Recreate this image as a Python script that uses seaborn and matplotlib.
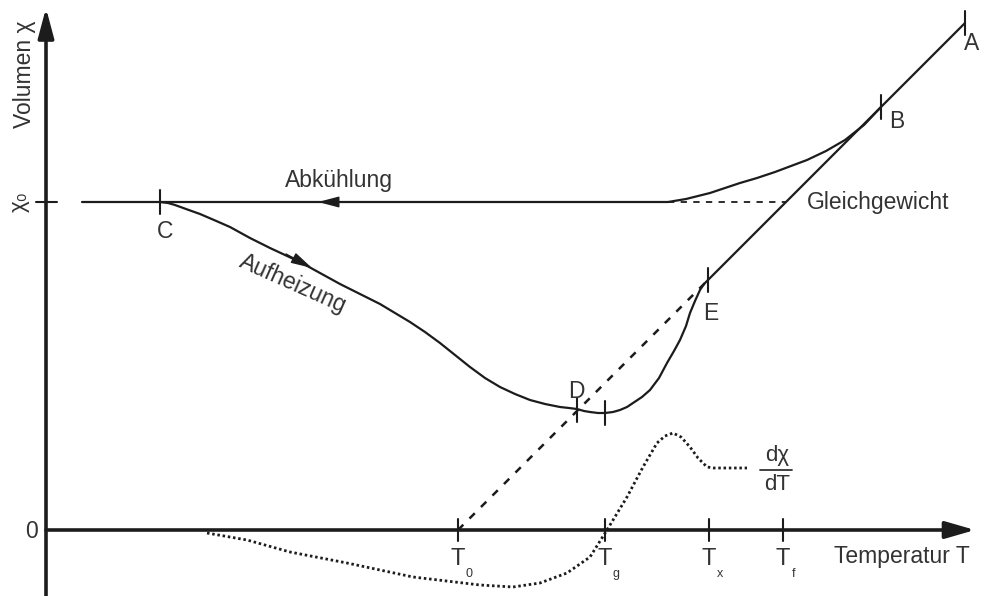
import matplotlib
matplotlib.use("Agg")
import matplotlib.pyplot as plt
import seaborn as sns

# Schematic volume / temperature diagram (values in drawing units, origin at axis cross)
sns.set_style("white")
plt.rcParams['font.family'] = ['Liberation Sans', 'DejaVu Sans']

INK = '#1c1c1c'
TXT = '#333333'

# chi_0 level (cooling line)
chi0 = 328
cool_x = [36, 622]
gleich_x = [622, 740]

# cooling curve from equilibrium line down to chi_0 level
cool_curve_x = [622, 628, 640, 652, 664, 679, 694, 711, 729, 745, 761, 780, 799, 818, 835]
cool_curve_y = [328, 329, 331, 334, 337, 342, 347, 352, 358, 364, 370, 379, 390, 405, 423]

# equilibrium line T0 -> E (dashed) and E -> A (solid)
eq_dash_x = [412, 662]
eq_dash_y = [0, 250]
eq_solid_x = [662, 919]
eq_solid_y = [250, 507]

# heating curve C -> D -> E
heat_x = [114, 122, 129, 140, 154, 168, 184, 204, 224, 239, 254, 274, 294, 314, 334,
          349, 364, 379, 394, 409, 424, 439, 454, 469, 484, 499, 514, 523, 531, 538,
          544, 552, 559, 567, 574, 581, 587, 596, 604, 613, 621, 628, 634, 640, 644,
          649, 654, 658, 662]
heat_y = [328, 327, 325, 321, 316, 310, 303, 292, 282, 275, 268, 257, 246, 236, 226,
          217, 208, 198, 187, 175, 163, 152, 143, 136, 130, 126, 123, 122, 121, 119,
          118, 117, 117, 118, 120, 123, 127, 133, 140, 152, 167, 179, 190, 204, 217,
          229, 240, 246, 250]

# d(chi)/dT curve
deriv_x = [161, 201, 244, 301, 367, 434, 467, 494, 521, 544, 561, 581, 597, 611,
           619, 627, 635, 644, 652, 661, 668, 701]
deriv_y = [-3, -10, -22, -33, -47, -55, -57, -53, -43, -27, 0, 33, 63, 87,
           94, 97, 93, 83, 72, 63, 62, 62]

# marked points on the curves
pt_names = ['A', 'B', 'C', 'D', '', 'E']
pt_x = [919, 835, 114, 531, 559, 662]
pt_y = [507, 423, 328, 120, 117, 250]
pt_label_x = [926, 851, 119, 530, None, 665]
pt_label_y = [486, 409, 299, 139, None, 216]

# temperature ticks
t_names = ['0', 'g', 'x', 'f']
t_pos = [412, 559, 663, 737]

fig = plt.figure(figsize=(9.84, 5.96), dpi=100)
ax = fig.add_axes([0, 0, 1, 1])
ax.set_xlim(-46, 938)
ax.set_ylim(-66, 530)
ax.axis('off')

# axes with arrow heads
ax.annotate('', xy=(0, 522), xytext=(0, -70),
            arrowprops=dict(arrowstyle='-|>,head_length=0.9,head_width=0.24', lw=2.6,
                            color=INK, shrinkA=0, shrinkB=0, mutation_scale=20))
ax.annotate('', xy=(929, 0), xytext=(0, 0),
            arrowprops=dict(arrowstyle='-|>,head_length=0.9,head_width=0.26', lw=2.6,
                            color=INK, shrinkA=0, shrinkB=0, mutation_scale=20))

# curves
sns.lineplot(x=cool_x, y=[chi0, chi0], color=INK, lw=1.6, ax=ax)
sns.lineplot(x=gleich_x, y=[chi0, chi0], color=INK, lw=1.3, linestyle=(0, (3.5, 3.5)), ax=ax)
sns.lineplot(x=cool_curve_x, y=cool_curve_y, sort=False, estimator=None, color=INK, lw=1.6, ax=ax)
sns.lineplot(x=eq_solid_x, y=eq_solid_y, color=INK, lw=1.6, ax=ax)
sns.lineplot(x=eq_dash_x, y=eq_dash_y, color=INK, lw=1.8, linestyle=(0, (3, 3.5)), ax=ax)
sns.lineplot(x=heat_x, y=heat_y, sort=False, estimator=None, color=INK, lw=1.6, ax=ax)
sns.lineplot(x=deriv_x, y=deriv_y, sort=False, estimator=None, color=INK, lw=2.0,
             linestyle=(0, (0.9, 1.0)), ax=ax)

# direction arrows on the curves
ax.annotate('', xy=(272, chi0), xytext=(300, chi0),
            arrowprops=dict(arrowstyle='-|>,head_length=1.3,head_width=0.34', lw=1,
                            color=INK, shrinkA=0, shrinkB=0, mutation_scale=10))
ax.annotate('', xy=(266, 262), xytext=(240, 276),
            arrowprops=dict(arrowstyle='-|>,head_length=1.3,head_width=0.34', lw=1,
                            color=INK, shrinkA=0, shrinkB=0, mutation_scale=10))

# point ticks on curves
for x, y in zip(pt_x, pt_y):
    ax.plot([x, x], [y - 12, y + 12], color=INK, lw=1.5)
for name, lx, ly in zip(pt_names, pt_label_x, pt_label_y):
    if name:
        ax.text(lx, ly, name, fontsize=16.5, color=TXT, ha='center', va='center')

# chi_0 tick on y axis
ax.plot([-10, 11], [chi0, chi0], color=INK, lw=1.5)
ax.text(-27, chi0, 'χ₀', fontsize=16, color=TXT, rotation=90, ha='center', va='center')
ax.text(-22, 456, 'Volumen χ', fontsize=16.5, color=TXT, rotation=90, ha='center', va='center')
ax.text(-15, -2, '0', fontsize=16.5, color=TXT, ha='center', va='center')

# temperature ticks
for name, x in zip(t_names, t_pos):
    ax.plot([x, x], [-11, 11], color=INK, lw=1.5)
    ax.text(x, -29, 'T', fontsize=17, color=TXT, ha='center', va='center')
    ax.text(x + 11, -44, name, fontsize=9, color=TXT, ha='center', va='center')
ax.text(856, -26, 'Temperatur T', fontsize=16.5, color=TXT, ha='center', va='center')

# labels
ax.text(293, 350, 'Abkühlung', fontsize=16.5, color=TXT, ha='center', va='center')
ax.text(247, 246, 'Aufheizung', fontsize=16.5, color=TXT, ha='center', va='center', rotation=-24)
ax.text(761, 328, 'Gleichgewicht', fontsize=16.5, color=TXT, ha='left', va='center')
ax.text(731, 74, 'dχ', fontsize=16, color=TXT, ha='center', va='center')
ax.plot([714, 746], [60, 60], color=TXT, lw=1.3)
ax.text(731, 45, 'dT', fontsize=16, color=TXT, ha='center', va='center')

fig.savefig('out.png', dpi=100)
